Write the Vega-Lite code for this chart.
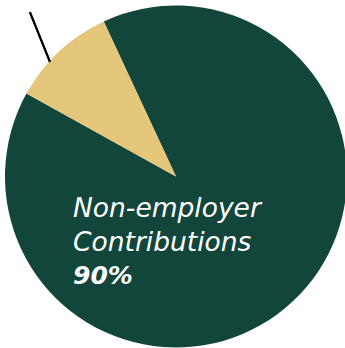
{
  "$schema": "https://vega.github.io/schema/vega-lite/v6.json",
  "width": 338,
  "height": 343,
  "padding": {"left": 7, "top": 5, "right": 0, "bottom": 0},
  "autosize": {"type": "none"},
  "background": "#ffffff",
  "config": {"view": {"stroke": null}},
  "data": {"values": [
    {"category": "Non-employer Contributions", "share": 0.9},
    {"category": "Employer Contributions", "share": 0.1}
  ]},
  "layer": [
    {
      "mark": {"type": "arc", "outerRadius": 171},
      "encoding": {
        "theta": {"field": "share", "type": "quantitative", "stack": true, "scale": {"range": [5.847, 12.13]}},
        "order": {"field": "share", "type": "quantitative", "sort": "descending"},
        "color": {"field": "category", "type": "nominal", "legend": null,
          "scale": {"domain": ["Non-employer Contributions", "Employer Contributions"], "range": ["#13463b", "#e4c77b"]}}
      }
    },
    {
      "mark": {"type": "rule", "color": "#000000", "strokeWidth": 2},
      "encoding": {
        "x": {"datum": -0.854, "type": "quantitative", "scale": {"domain": [-0.988, 0.988], "nice": false, "zero": false}, "axis": null},
        "y": {"datum": 0.962, "type": "quantitative", "scale": {"domain": [-1.003, 1.003], "nice": false, "zero": false}, "axis": null},
        "x2": {"datum": -0.737},
        "y2": {"datum": 0.670}
      }
    },
    {
      "transform": [{"filter": "datum.share > 0.5"}],
      "mark": {"type": "text", "align": "left", "baseline": "alphabetic", "font": "DejaVu Sans", "fontStyle": "italic", "fontSize": 26.5, "color": "#ffffff", "lineBreak": " ", "lineHeight": 33.5},
      "encoding": {
        "text": {"field": "category", "type": "nominal"},
        "x": {"datum": -0.602, "type": "quantitative"},
        "y": {"datum": -0.237, "type": "quantitative"}
      }
    },
    {
      "transform": [{"filter": "datum.share > 0.5"}],
      "mark": {"type": "text", "align": "left", "baseline": "alphabetic", "font": "DejaVu Sans", "fontStyle": "italic", "fontWeight": "bold", "fontSize": 25, "color": "#ffffff"},
      "encoding": {
        "text": {"field": "share", "type": "quantitative", "format": ".0%"},
        "x": {"datum": -0.602, "type": "quantitative"},
        "y": {"datum": -0.629, "type": "quantitative"}
      }
    }
  ]
}
